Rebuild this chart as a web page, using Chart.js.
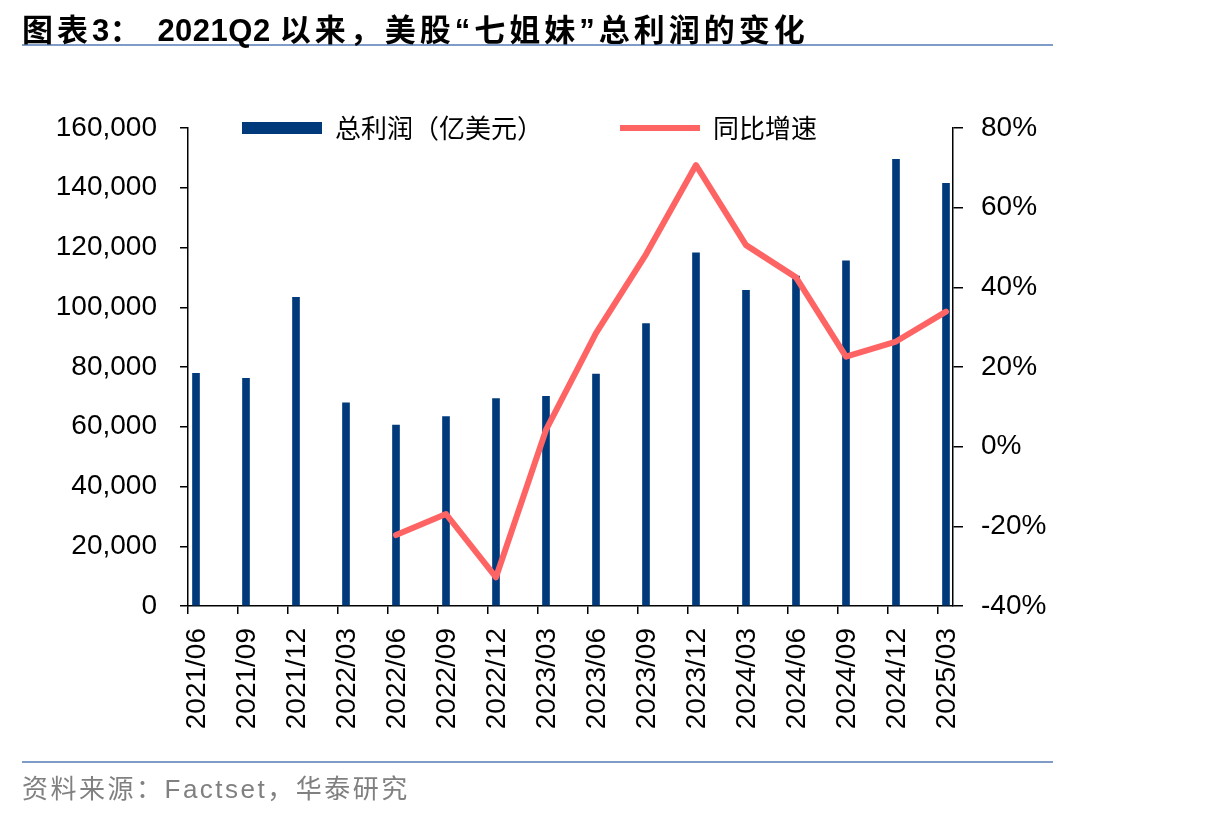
<!DOCTYPE html>
<html>
<head>
<meta charset="utf-8">
<script src="https://cdn.jsdelivr.net/npm/chart.js@4"></script>
<style>
    body { margin: 0; background: #fff; }
    #wrap { position: relative; width: 1206px; height: 816px; }
    #chart { position: absolute; left: 0; top: 0; }
    .title {
        position: absolute; left: 22px; top: 5px; z-index: 2;
        font: bold 31px "Liberation Sans", "Noto Sans CJK SC", sans-serif;
        color: #000; letter-spacing: 4px; white-space: nowrap;
    }
    .title span { letter-spacing: 0.5px; }
    .rule { position: absolute; left: 22px; width: 1031px; height: 2px; background: #7f9cc8; }
    .source {
        position: absolute; left: 22px; top: 768px; z-index: 2;
        font: 26px "Liberation Sans", "Noto Sans CJK SC", sans-serif;
        color: #808080; letter-spacing: 2.5px; white-space: nowrap;
    }
</style>
</head>
<body>
<div id="wrap">
    <div class="title">图表<span>3</span>：&nbsp;<span>2021Q2 </span>以来，美股“七姐妹”总利润的变化</div>
    <div class="rule" style="top:44px"></div>
    <canvas id="chart" width="1206" height="816"></canvas>
    <div class="rule" style="top:761px"></div>
    <div class="source">资料来源：Factset，华泰研究</div>
</div>
<script>
// quarters shown on the x axis
const quarters = [
    "2021/06", "2021/09", "2021/12", "2022/03", "2022/06", "2022/09", "2022/12", "2023/03",
    "2023/06", "2023/09", "2023/12", "2024/03", "2024/06", "2024/09", "2024/12", "2025/03",
];
// total profit, 100m USD
const profit = [
    77900, 76200, 103300, 68000, 60600, 63400, 69400, 70200,
    77600, 94500, 118200, 105700, 110400, 115500, 149500, 141500,
];
// year on year growth, %
const growth = [
    null, null, null, null, -22.2, -16.9, -32.8, 4.2,
    28.5, 48.3, 70.7, 50.6, 42.5, 22.6, 26.4, 33.9,
];

const profitLabel = "总利润（亿美元）";
const growthLabel = "同比增速";
const leftTicks = [0, 20000, 40000, 60000, 80000, 100000, 120000, 140000, 160000];
const rightTicks = [-40, -20, 0, 20, 40, 60, 80];

const tickFont = { family: "Liberation Sans", size: 28 };
const blue = "#013a7b";
const red = "#ff6464";

// bars sit a bit right of each quarter's tick mark
const shift = 0.16;

// move the legend down so it sits on the top line of the plot
const legendShift = {
    id: "legendShift",
    afterLayout(chart) {
        const lg = chart.legend;
        const pad = lg.options.labels.padding;
        const fs = lg.options.labels.font.size;
        const top = chart.chartArea.top - pad - fs / 2;
        const dy = top - lg.top;
        lg.top += dy;
        lg.bottom += dy;
        lg.left = 242 - pad;
    },
};

const ctx = document.getElementById("chart").getContext("2d");
new Chart(ctx, {
    data: {
        datasets: [
            {
                type: "bar",
                label: profitLabel,
                data: profit.map((v, i) => ({ x: i, y: v })),
                backgroundColor: blue,
                borderWidth: 0,
                barThickness: 7,
                pointStyle: "rect",
                yAxisID: "y",
                order: 2,
            },
            {
                type: "line",
                label: growthLabel,
                data: growth.map((v, i) => ({ x: i, y: v })),
                borderColor: red,
                backgroundColor: red,
                borderWidth: 6,
                borderCapStyle: "round",
                borderJoinStyle: "round",
                pointRadius: 0,
                pointStyle: "line",
                tension: 0,
                yAxisID: "y1",
                order: 1,
            },
        ],
    },
    plugins: [legendShift],
    options: {
        responsive: false,
        animation: false,
        devicePixelRatio: 1,
        events: [],
        layout: { padding: { left: 0, right: 138, top: 15, bottom: 70 } },
        scales: {
            x: {
                type: "linear",
                offset: false,
                min: -shift,
                max: quarters.length - 1 + 0.3 - shift,
                afterBuildTicks: (scale) => {
                    scale.ticks = quarters.map((q, i) => ({ value: i - shift }));
                },
                afterFit: (scale) => {
                    scale.height = 140;
                },
                ticks: {
                    autoSkip: false,
                    maxRotation: 90,
                    minRotation: 90,
                    labelOffset: 9,
                    padding: 14,
                    color: "#000",
                    font: tickFont,
                    callback: (value, index) => quarters[index],
                },
                grid: { offset: false, drawOnChartArea: false, tickLength: 8, color: "#000", lineWidth: 1.5 },
                border: { color: "#000", width: 1.5 },
            },
            y: {
                position: "left",
                min: 0,
                max: 160000,
                afterBuildTicks: (scale) => {
                    scale.ticks = leftTicks.map((v) => ({ value: v }));
                },
                afterFit: (scale) => {
                    scale.width = 188;
                },
                ticks: {
                    padding: 23,
                    color: "#000",
                    font: tickFont,
                    callback: (v) => v.toLocaleString("en-US"),
                },
                grid: { drawOnChartArea: false, tickLength: 8, color: "#000", lineWidth: 1.5 },
                border: { color: "#000", width: 1.5 },
            },
            y1: {
                position: "right",
                min: -40,
                max: 80,
                afterBuildTicks: (scale) => {
                    scale.ticks = rightTicks.map((v) => ({ value: v }));
                },
                afterFit: (scale) => {
                    scale.width = 115;
                },
                ticks: {
                    padding: 18,
                    color: "#000",
                    font: tickFont,
                    callback: (v) => v + "%",
                },
                grid: { drawOnChartArea: false, tickLength: 10, color: "#000", lineWidth: 1.5 },
                border: { color: "#000", width: 1.5 },
            },
        },
        plugins: {
            legend: {
                position: "top",
                align: "start",
                labels: {
                    usePointStyle: true,
                    pointStyleWidth: 80,
                    boxHeight: 12,
                    padding: 77,
                    color: "#000",
                    font: { family: "Noto Sans CJK SC", size: 26 },
                    sort: (a, b) => a.datasetIndex - b.datasetIndex,
                },
            },
            tooltip: { enabled: false },
        },
    },
});
</script>
</body>
</html>
